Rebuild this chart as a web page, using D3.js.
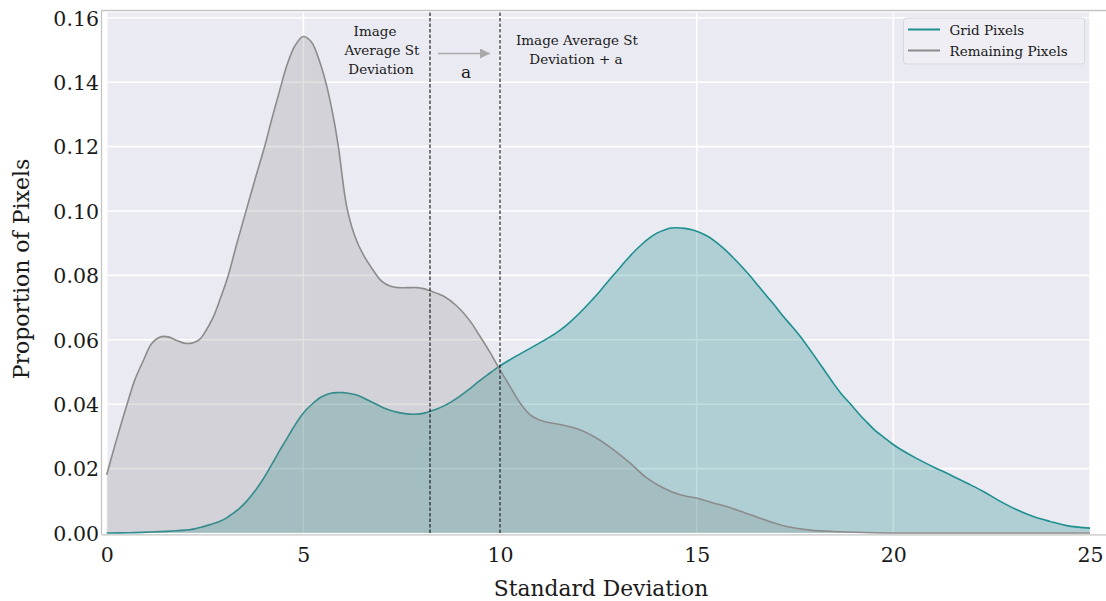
<!DOCTYPE html>
<html>
<head>
<meta charset="utf-8">
<script src="https://cdn.jsdelivr.net/npm/d3@7"></script>
<style>
  html, body { margin: 0; padding: 0; background: #ffffff; }
  svg { display: block; }
  text { font-family: "DejaVu Serif", "Liberation Serif", serif; fill: #1a1a1a; }
</style>
</head>
<body>
<svg id="chart" width="1106" height="601"></svg>
<script>
// Kernel density estimates of per-pixel standard deviation
const gridX = [0, 0.6, 1.1, 1.5, 1.78, 2.0, 2.2, 2.4, 2.63, 2.85, 3.05, 3.2, 3.39, 3.56, 3.73, 3.9, 4.07, 4.24, 4.41, 4.58, 4.74, 4.91, 5.09, 5.25, 5.42, 5.55, 5.7, 5.85, 6.0, 6.1, 6.27, 6.44, 6.65, 6.87, 7.08, 7.29, 7.46, 7.63, 7.8, 7.97, 8.1, 8.22, 8.39, 8.56, 8.77, 8.98, 9.2, 9.41, 9.68, 9.96, 10.2, 10.42, 10.67, 10.93, 11.23, 11.53, 11.78, 12.03, 12.28, 12.54, 12.75, 12.97, 13.18, 13.39, 13.6, 13.81, 14.0, 14.2, 14.35, 14.49, 14.7, 14.9, 15.08, 15.3, 15.51, 15.72, 15.93, 16.15, 16.36, 16.57, 16.78, 17.0, 17.2, 17.42, 17.63, 17.84, 18.05, 18.26, 18.47, 18.68, 18.9, 19.11, 19.32, 19.54, 19.75, 19.96, 20.17, 20.6, 21.02, 21.44, 21.87, 22.29, 22.71, 23.14, 23.56, 23.98, 24.41, 25];
const gridY = [0.0000, 0.0001, 0.0003, 0.0005, 0.0007, 0.0009, 0.0012, 0.0018, 0.0026, 0.0035, 0.0047, 0.0060, 0.0078, 0.0099, 0.0124, 0.0153, 0.0186, 0.0222, 0.0259, 0.0293, 0.0326, 0.0358, 0.0385, 0.0403, 0.0420, 0.0428, 0.0434, 0.0436, 0.0436, 0.0435, 0.0431, 0.0425, 0.0412, 0.0399, 0.0387, 0.0378, 0.0373, 0.0370, 0.0369, 0.0370, 0.0373, 0.0378, 0.0385, 0.0394, 0.0408, 0.0425, 0.0445, 0.0466, 0.0491, 0.0516, 0.0534, 0.0550, 0.0567, 0.0585, 0.0606, 0.0630, 0.0655, 0.0684, 0.0716, 0.0751, 0.0782, 0.0813, 0.0843, 0.0871, 0.0896, 0.0917, 0.0932, 0.0942, 0.0947, 0.0948, 0.0946, 0.0941, 0.0933, 0.0920, 0.0902, 0.0880, 0.0855, 0.0827, 0.0798, 0.0767, 0.0736, 0.0704, 0.0673, 0.0642, 0.0611, 0.0576, 0.0540, 0.0503, 0.0466, 0.0432, 0.0402, 0.0372, 0.0345, 0.0318, 0.0298, 0.0278, 0.0261, 0.0231, 0.0205, 0.0181, 0.0155, 0.0129, 0.0099, 0.0072, 0.0051, 0.0036, 0.0023, 0.0015];

const restX = [0, 0.25, 0.5, 0.72, 0.93, 1.14, 1.36, 1.57, 1.78, 1.99, 2.2, 2.37, 2.54, 2.7, 2.88, 3.09, 3.3, 3.53, 3.77, 4.01, 4.21, 4.41, 4.58, 4.79, 5.0, 5.21, 5.42, 5.59, 5.75, 5.89, 6.1, 6.3, 6.52, 6.78, 6.99, 7.2, 7.41, 7.65, 7.88, 8.05, 8.22, 8.56, 8.9, 9.24, 9.49, 9.75, 9.97, 10.25, 10.51, 10.76, 11.1, 11.53, 12.03, 12.45, 12.88, 13.31, 13.73, 14.15, 14.58, 15.04, 15.4, 15.76, 16.2, 16.61, 17.0, 17.29, 17.88, 18.6, 19.5, 21, 25];
const restY = [0.0181, 0.0290, 0.0393, 0.0477, 0.0535, 0.0588, 0.0609, 0.0609, 0.0598, 0.0589, 0.0591, 0.0602, 0.0632, 0.0668, 0.0725, 0.0800, 0.0895, 0.0995, 0.1098, 0.1198, 0.1291, 0.1380, 0.1452, 0.1514, 0.1542, 0.1524, 0.1462, 0.1390, 0.1300, 0.1200, 0.1015, 0.0925, 0.0865, 0.0815, 0.0782, 0.0767, 0.0762, 0.0762, 0.0762, 0.0759, 0.0752, 0.0736, 0.0705, 0.0658, 0.0611, 0.0560, 0.0513, 0.0456, 0.0404, 0.0368, 0.0347, 0.0337, 0.0321, 0.0295, 0.0259, 0.0217, 0.0171, 0.0140, 0.0119, 0.0107, 0.0094, 0.0082, 0.0064, 0.0046, 0.0030, 0.0020, 0.0009, 0.0004, 0.0001, 0.0000, 0.0000];

const xTicks = [0, 5, 10, 15, 20, 25];
const yTicks = [0.00, 0.02, 0.04, 0.06, 0.08, 0.10, 0.12, 0.14, 0.16];
const thresholds = [8.22, 10];
const seriesNames = ["Grid Pixels", "Remaining Pixels"];
const seriesColors = ["#1f8f8f", "#8c8c8c"];

const svg = d3.select("#chart");

const x = d3.scaleLinear().domain([0, 25]).range([106.7, 1090]);
const y = d3.scaleLinear().domain([0, 0.16]).range([533, 17.8]);

// plot background
svg.append("rect")
  .attr("x", x(0)).attr("y", 12.5)
  .attr("width", x(25) - x(0)).attr("height", y(0) - 12.5)
  .attr("fill", "#eaeaf2");

// grid lines
const grid = svg.append("g");
grid.selectAll("line.gy").data(yTicks).join("line")
  .attr("x1", x(0)).attr("x2", x(25))
  .attr("y1", d => y(d)).attr("y2", d => y(d))
  .attr("stroke", "#ffffff").attr("stroke-width", 1.6);
grid.selectAll("line.gx").data(xTicks).join("line")
  .attr("y1", 12.5).attr("y2", y(0))
  .attr("x1", d => x(d)).attr("x2", d => x(d))
  .attr("stroke", "#ffffff").attr("stroke-width", 1.6);

const curve = d3.curveCatmullRom.alpha(0.5);
const area = d3.area().x(d => x(d[0])).y0(y(0)).y1(d => y(d[1])).curve(curve);
const line = d3.line().x(d => x(d[0])).y(d => y(d[1])).curve(curve);

const gridPts = gridX.map((v, i) => [v, gridY[i]]);
const restPts = restX.map((v, i) => [v, restY[i]]);

svg.append("path").datum(gridPts).attr("d", area)
  .attr("fill", "#008080").attr("fill-opacity", 0.25);
svg.append("path").datum(gridPts).attr("d", line)
  .attr("fill", "none").attr("stroke", seriesColors[0]).attr("stroke-width", 1.6);

svg.append("path").datum(restPts).attr("d", area)
  .attr("fill", "#808080").attr("fill-opacity", 0.23);
svg.append("path").datum(restPts).attr("d", line)
  .attr("fill", "none").attr("stroke", seriesColors[1]).attr("stroke-width", 1.6);

// threshold markers
svg.selectAll("line.thr").data(thresholds).join("line")
  .attr("x1", d => x(d)).attr("x2", d => x(d))
  .attr("y1", 12.5).attr("y2", y(0))
  .attr("stroke", "#111").attr("stroke-width", 1.1)
  .attr("stroke-dasharray", "3.5,2");

// frame
const frame = svg.append("g").attr("stroke", "#c4c4c4").attr("stroke-width", 1.3);
frame.append("line").attr("x1", 101.5).attr("x2", 1106).attr("y1", 10.5).attr("y2", 10.5);
frame.append("line").attr("x1", 101.5).attr("x2", 1106).attr("y1", 534.8).attr("y2", 534.8);
frame.append("line").attr("x1", 101.5).attr("x2", 101.5).attr("y1", 10.5).attr("y2", 534.8);

// tick labels via d3 axes (no tick marks)
const tickFont = "'DejaVu Serif', serif";
const xAxis = d3.axisBottom(x).tickValues(xTicks).tickSize(0).tickPadding(0).tickFormat(d3.format("d"));
const gx = svg.append("g").attr("transform", "translate(0,547)").call(xAxis);
gx.select(".domain").remove();
gx.selectAll("text").attr("font-size", 20.5).attr("dy", "0.71em")
  .style("font-family", tickFont).attr("fill", "#1a1a1a");

const yAxis = d3.axisLeft(y).tickValues(yTicks).tickSize(0).tickPadding(0).tickFormat(d3.format(".2f"));
const gy = svg.append("g").attr("transform", "translate(99,0)").call(yAxis);
gy.select(".domain").remove();
gy.selectAll("text").attr("font-size", 20.5).attr("dy", "0.36em")
  .style("font-family", tickFont).attr("fill", "#1a1a1a");

svg.append("text").attr("x", 601).attr("y", 596).attr("text-anchor", "middle")
  .attr("font-size", 21.8).text("Standard Deviation");
svg.append("text").attr("transform", "translate(29,269) rotate(-90)").attr("text-anchor", "middle")
  .attr("font-size", 22).text("Proportion of Pixels");

// annotations
const ann = svg.append("g").attr("font-size", 13.5).attr("text-anchor", "middle");
ann.append("text").attr("x", 375).attr("y", 36).text("Image");
ann.append("text").attr("x", 382).attr("y", 55).text("Average St");
ann.append("text").attr("x", 381).attr("y", 74).text("Deviation");
ann.append("text").attr("x", 577).attr("y", 45).text("Image Average St");
ann.append("text").attr("x", 576).attr("y", 64).text("Deviation + a");
svg.append("text").attr("x", 466).attr("y", 78).attr("text-anchor", "middle")
  .attr("font-size", 17).text("a");

svg.append("defs").append("marker").attr("id", "head")
  .attr("viewBox", "0 0 10 10").attr("refX", 10).attr("refY", 5)
  .attr("markerWidth", 10).attr("markerHeight", 10).attr("markerUnits", "userSpaceOnUse")
  .attr("orient", "auto")
  .append("path").attr("d", "M0,0L10,5L0,10Z").attr("fill", "#a9a9a9");
svg.append("line").attr("x1", 438).attr("x2", 490).attr("y1", 53.5).attr("y2", 53.5)
  .attr("stroke", "#a9a9a9").attr("stroke-width", 1.3).attr("marker-end", "url(#head)");

// legend
const lg = svg.append("g");
lg.append("rect").attr("x", 903.5).attr("y", 18).attr("width", 181).attr("height", 46)
  .attr("rx", 3).attr("fill", "#eeeef4").attr("stroke", "#d6d6dc").attr("stroke-width", 1);
seriesNames.forEach((name, i) => {
  const yy = 29.5 + i * 21;
  lg.append("line").attr("x1", 908).attr("x2", 940).attr("y1", yy).attr("y2", yy)
    .attr("stroke", seriesColors[i]).attr("stroke-width", 2);
  lg.append("text").attr("x", 949.5).attr("y", yy + 5).attr("font-size", 13.5).text(name);
});
</script>
</body>
</html>
